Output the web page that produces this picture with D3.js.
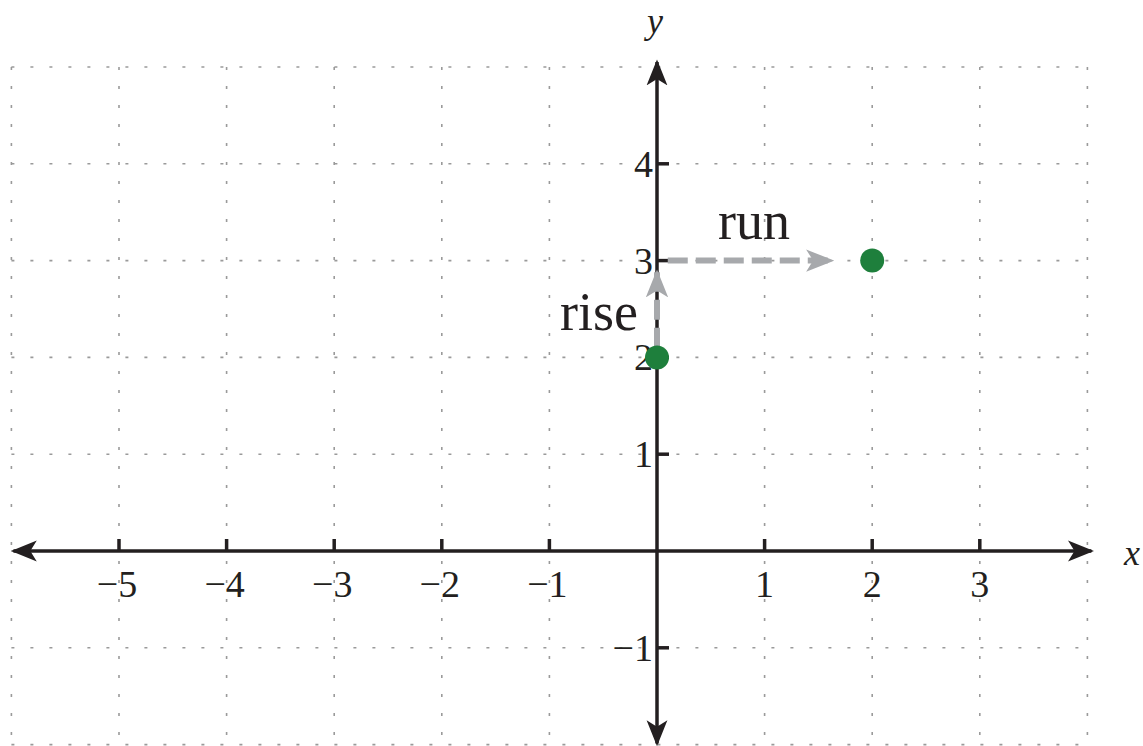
<!DOCTYPE html>
<html>
<head>
<meta charset="utf-8">
<script src="https://cdn.jsdelivr.net/npm/d3@7"></script>
<style>
  body { margin: 0; background: #fff; }
</style>
</head>
<body>
<div id="chart"></div>
<script>
const xTicks = [-5, -4, -3, -2, -1, 1, 2, 3];
const yTicks = [-1, 1, 2, 3, 4];
const gridX = [-6, -5, -4, -3, -2, -1, 0, 1, 2, 3, 4];
const gridY = [-2, -1, 0, 1, 2, 3, 4, 5];
const points = [[0, 2], [2, 3]];
const riseSeg = [[0, 2.1], [0, 2.88]];
const runSeg = [[0.1, 3], [1.62, 3]];

const W = 1143, H = 746;
const FONT = '"Liberation Serif", "Times New Roman", Times, serif';

const x = d3.scaleLinear().domain([0, 1]).range([657, 764.6]);
const y = d3.scaleLinear().domain([0, 1]).range([551, 454.2]);

const svg = d3.select('#chart')
    .append('svg')
    .attr('width', W)
    .attr('height', H)
    .style('font-family', FONT);

const defs = svg.append('defs');

function marker(id, color, w, h) {
    defs.append('marker')
        .attr('id', id)
        .attr('viewBox', '0 0 20 16')
        .attr('refX', 18)
        .attr('refY', 8)
        .attr('markerWidth', w)
        .attr('markerHeight', h)
        .attr('markerUnits', 'userSpaceOnUse')
        .attr('orient', 'auto-start-reverse')
        .append('path')
        .attr('d', 'M0,0 L20,8 L0,16 L5,8 Z')
        .attr('fill', color);
}
marker('axisArrow', '#231f20', 26, 22);
marker('grayArrow', '#a7a9ac', 28, 26);

// grid
const grid = svg.append('g').attr('class', 'grid')
    .attr('stroke', '#9a9a9a')
    .attr('stroke-width', 1.6)
    .attr('stroke-dasharray', '3,16');

grid.selectAll('line.v')
    .data(gridX)
    .enter().append('line')
    .attr('class', 'v')
    .attr('x1', d => x(d)).attr('x2', d => x(d))
    .attr('y1', y(5)).attr('y2', y(-2));

grid.selectAll('line.h')
    .data(gridY)
    .enter().append('line')
    .attr('class', 'h')
    .attr('y1', d => y(d)).attr('y2', d => y(d))
    .attr('x1', x(-6)).attr('x2', x(4));

// axes
const axes = svg.append('g')
    .attr('stroke', '#231f20')
    .attr('stroke-width', 3.5);

axes.append('line')
    .attr('x1', x(-6) + 2).attr('x2', x(4) + 4)
    .attr('y1', y(0)).attr('y2', y(0))
    .attr('marker-start', 'url(#axisArrow)')
    .attr('marker-end', 'url(#axisArrow)');

axes.append('line')
    .attr('x1', x(0)).attr('x2', x(0))
    .attr('y1', y(5) - 5).attr('y2', y(-2) - 1)
    .attr('marker-start', 'url(#axisArrow)')
    .attr('marker-end', 'url(#axisArrow)');

axes.selectAll('line.xt')
    .data(xTicks)
    .enter().append('line')
    .attr('class', 'xt')
    .attr('x1', d => x(d)).attr('x2', d => x(d))
    .attr('y1', y(0)).attr('y2', y(0) - 12);

axes.selectAll('line.yt')
    .data(yTicks)
    .enter().append('line')
    .attr('class', 'yt')
    .attr('y1', d => y(d)).attr('y2', d => y(d))
    .attr('x1', x(0)).attr('x2', x(0) + 12);

const fmt = d => d < 0 ? '\u2212' + Math.abs(d) : String(d);

svg.selectAll('text.xl')
    .data(xTicks)
    .enter().append('text')
    .attr('class', 'xl')
    .attr('x', d => x(d) - (d < 0 ? 2 : 0))
    .attr('y', y(0) + 46)
    .attr('text-anchor', 'middle')
    .attr('font-size', 38)
    .attr('fill', '#231f20')
    .text(fmt);

svg.selectAll('text.yl')
    .data(yTicks)
    .enter().append('text')
    .attr('class', 'yl')
    .attr('x', x(0) - 4)
    .attr('y', d => y(d) + 13)
    .attr('text-anchor', 'end')
    .attr('font-size', 38)
    .attr('fill', '#231f20')
    .text(fmt);

svg.append('text')
    .attr('x', 1132).attr('y', 565)
    .attr('text-anchor', 'middle')
    .attr('font-size', 36)
    .attr('font-style', 'italic')
    .attr('fill', '#231f20')
    .text('x');

svg.append('text')
    .attr('x', 655).attr('y', 33)
    .attr('text-anchor', 'middle')
    .attr('font-size', 36)
    .attr('font-style', 'italic')
    .attr('fill', '#231f20')
    .text('y');

// rise and run arrows
const line = d3.line().x(d => x(d[0])).y(d => y(d[1]));

[riseSeg, runSeg].forEach(seg => {
    svg.append('path')
        .attr('d', line(seg))
        .attr('fill', 'none')
        .attr('stroke', '#a7a9ac')
        .attr('stroke-width', 6)
        .attr('stroke-dasharray', '20,8')
        .attr('marker-end', 'url(#grayArrow)');
});

svg.append('text')
    .attr('x', 754).attr('y', 239)
    .attr('text-anchor', 'middle')
    .attr('font-size', 54)
    .attr('fill', '#231f20')
    .text('run');

svg.append('text')
    .attr('x', 599).attr('y', 330)
    .attr('text-anchor', 'middle')
    .attr('font-size', 54)
    .attr('fill', '#231f20')
    .text('rise');

svg.selectAll('circle.pt')
    .data(points)
    .enter().append('circle')
    .attr('class', 'pt')
    .attr('cx', d => x(d[0]))
    .attr('cy', d => y(d[1]))
    .attr('r', 12)
    .attr('fill', '#1e7f3c');
</script>
</body>
</html>
